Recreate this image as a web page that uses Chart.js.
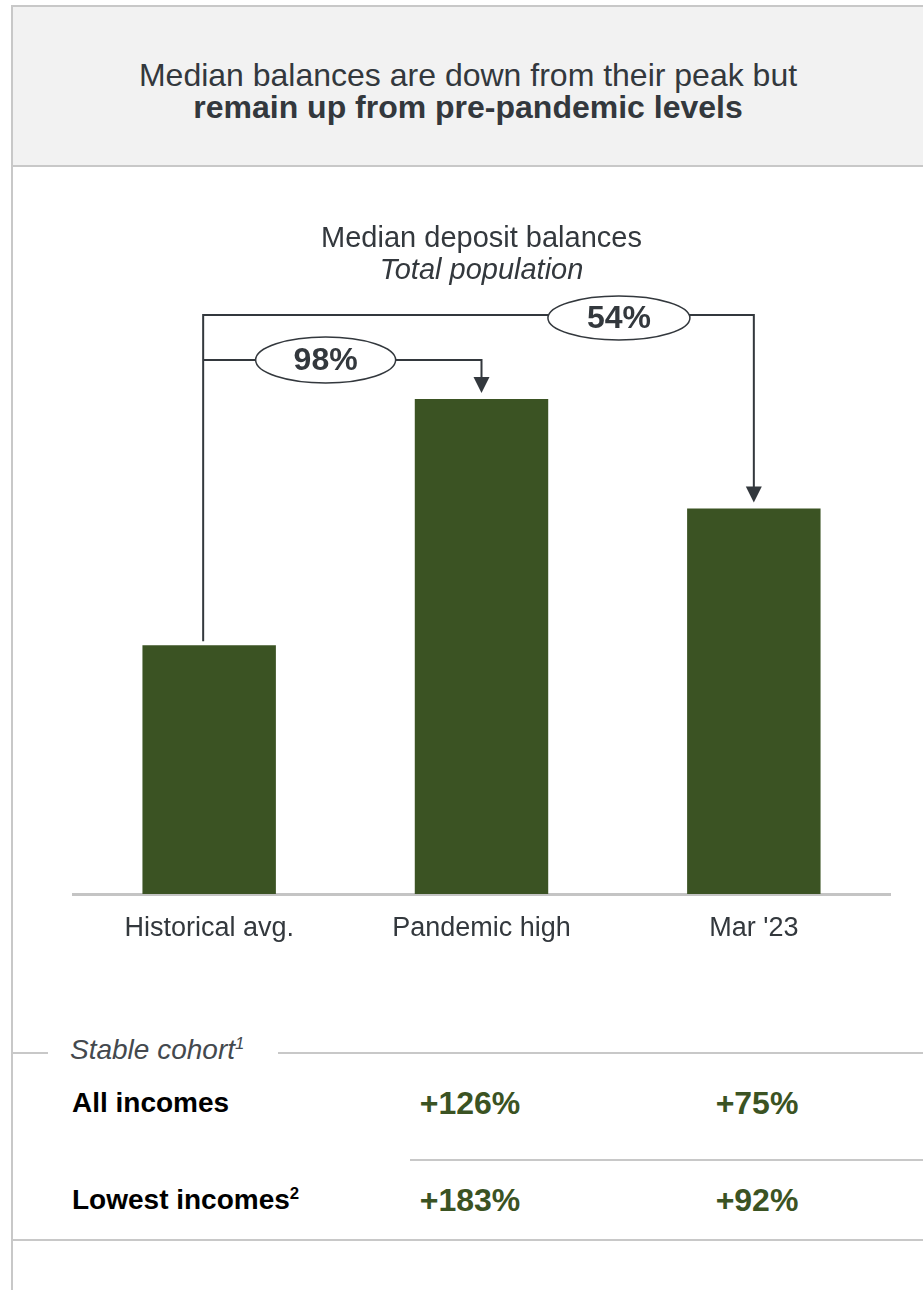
<!DOCTYPE html>
<html>
<head>
<meta charset="utf-8">
<script src="https://cdn.jsdelivr.net/npm/chart.js@4.4.1/dist/chart.umd.min.js"></script>
<style>
  html, body { margin: 0; padding: 0; background: #ffffff; }
  body { width: 923px; height: 1290px; position: relative; overflow: hidden;
         font-family: "Liberation Sans", Arial, sans-serif; color: #33383d; }
  .frame-left { position: absolute; left: 11px; top: 5px; width: 2px; height: 1285px; background: #c8c8c8; }
  .header { position: absolute; left: 13px; top: 5px; width: 910px; height: 158px;
            background: #f2f2f2; border-top: 2px solid #c8c8c8; border-bottom: 2px solid #c8c8c8; }
  .header .l { position: absolute; left: 0; width: 100%; text-align: center; font-size: 32px; line-height: 34px; }
  .hline { position: absolute; height: 2px; background: #c8c8c8; }
  .txt { position: absolute; white-space: nowrap; line-height: 1; }
  .lbl { font-weight: bold; color: #000; font-size: 28px; }
  .val { font-weight: bold; color: #3b5323; font-size: 32px; transform: translateX(-50%); }
  sup { font-size: 60%; line-height: 0; }
  #chartBox { position: absolute; left: 0; top: 166px; width: 923px; height: 820px; }
</style>
</head>
<body>
<div class="frame-left"></div>
<div class="header">
  <div class="l" style="top:51px">Median balances are down from their peak but</div>
  <div class="l" style="top:83px;font-weight:bold">remain up from pre-pandemic levels</div>
</div>

<div id="chartBox"><canvas id="depositChart"></canvas></div>

<div class="hline" style="left:13px;top:1052px;width:35px"></div>
<div class="hline" style="left:278px;top:1052px;width:645px"></div>
<div class="txt" style="left:70px;top:1036px;font-size:28px;font-style:italic;color:#44494e">Stable cohort<sup>1</sup></div>

<div class="txt lbl" style="left:72px;top:1089px">All incomes</div>
<div class="txt val" style="left:470px;top:1087px">+126%</div>
<div class="txt val" style="left:757px;top:1087px">+75%</div>
<div class="hline" style="left:410px;top:1159px;width:513px"></div>
<div class="txt lbl" style="left:72px;top:1186px">Lowest incomes<sup>2</sup></div>
<div class="txt val" style="left:470px;top:1184px">+183%</div>
<div class="txt val" style="left:757px;top:1184px">+92%</div>
<div class="hline" style="left:13px;top:1239px;width:910px"></div>

<script>
var categories = ['Historical avg.', 'Pandemic high', "Mar '23"];
var medianBalance = [100, 199, 155];   // index, historical avg = 100
var changeLabels = ['98%', '54%'];     // pandemic high vs hist., Mar '23 vs hist.

var barColor = '#3b5323';
var inkColor = '#33383d';
var fontFamily = '"Liberation Sans", Arial, sans-serif';

// brackets, arrows and the two oval labels above the bars
var bracketPlugin = {
    id: 'bracketPlugin',
    afterDatasetsDraw: function (chart) {
        var ctx = chart.ctx;
        var bars = chart.getDatasetMeta(0).data;
        var top = chart.chartArea.top;
        var x1 = bars[0].x - 6, x2 = bars[1].x, x3 = bars[2].x;
        var yOuter = top + 18, yInner = top + 63;

        ctx.save();
        ctx.strokeStyle = inkColor;
        ctx.fillStyle = inkColor;
        ctx.lineWidth = 2;

        ctx.beginPath();
        ctx.moveTo(x1, bars[0].y - 4);
        ctx.lineTo(x1, yOuter);
        ctx.lineTo(x3, yOuter);
        ctx.lineTo(x3, bars[2].y - 20);
        ctx.moveTo(x1, yInner);
        ctx.lineTo(x2, yInner);
        ctx.lineTo(x2, bars[1].y - 20);
        ctx.stroke();

        [[x2, bars[1].y], [x3, bars[2].y]].forEach(function (p) {
            ctx.beginPath();
            ctx.moveTo(p[0] - 8, p[1] - 22);
            ctx.lineTo(p[0] + 8, p[1] - 22);
            ctx.lineTo(p[0], p[1] - 6);
            ctx.closePath();
            ctx.fill();
        });

        var ovals = [
            { x: x1 + 0.44 * (x2 - x1), y: yInner, rx: 70, ry: 23, text: changeLabels[0] },
            { x: x1 + 0.755 * (x3 - x1), y: yOuter + 3, rx: 71, ry: 22, text: changeLabels[1] }
        ];
        ovals.forEach(function (o) {
            ctx.beginPath();
            ctx.ellipse(o.x, o.y, o.rx, o.ry, 0, 0, Math.PI * 2);
            ctx.fillStyle = '#ffffff';
            ctx.fill();
            ctx.lineWidth = 1.5;
            ctx.stroke();
            ctx.fillStyle = inkColor;
            ctx.font = 'bold 32px ' + fontFamily;
            ctx.textAlign = 'center';
            ctx.textBaseline = 'middle';
            ctx.fillText(o.text, o.x, o.y + 1);
        });
        ctx.restore();
    }
};

var ctx = document.getElementById('depositChart').getContext('2d');

var depositChart = new Chart(ctx, {
    type: 'bar',
    data: {
        labels: categories,
        datasets: [
            {
                data: medianBalance,
                backgroundColor: barColor,
                borderWidth: 0,
                categoryPercentage: 1,
                barPercentage: 0.49
            }
        ]
    },
    options: {
        responsive: true,
        maintainAspectRatio: false,
        animation: false,
        layout: {
            padding: { left: 73, right: 33, top: 0, bottom: 23.6 }
        },
        plugins: {
            legend: { display: false },
            tooltip: { enabled: false },
            title: {
                display: true,
                text: 'Median deposit balances',
                color: inkColor,
                font: { family: fontFamily, size: 29, weight: 'normal', lineHeight: 1.1 },
                padding: { top: 57, bottom: 0 }
            },
            subtitle: {
                display: true,
                text: 'Total population',
                color: inkColor,
                font: { family: fontFamily, size: 29, style: 'italic', lineHeight: 1.1 },
                padding: { top: 0, bottom: 10.2 }
            }
        },
        scales: {
            y: {
                display: false,
                min: 0,
                max: 240
            },
            x: {
                position: 'bottom',
                ticks: {
                    padding: 18,
                    color: inkColor,
                    font: { family: fontFamily, size: 27 },
                    maxRotation: 0,
                    minRotation: 0
                },
                grid: {
                    display: false,
                    drawTicks: false
                },
                border: {
                    display: true,
                    color: '#c4c4c4',
                    width: 3
                }
            }
        }
    },
    plugins: [bracketPlugin]
});
</script>
</body>
</html>
